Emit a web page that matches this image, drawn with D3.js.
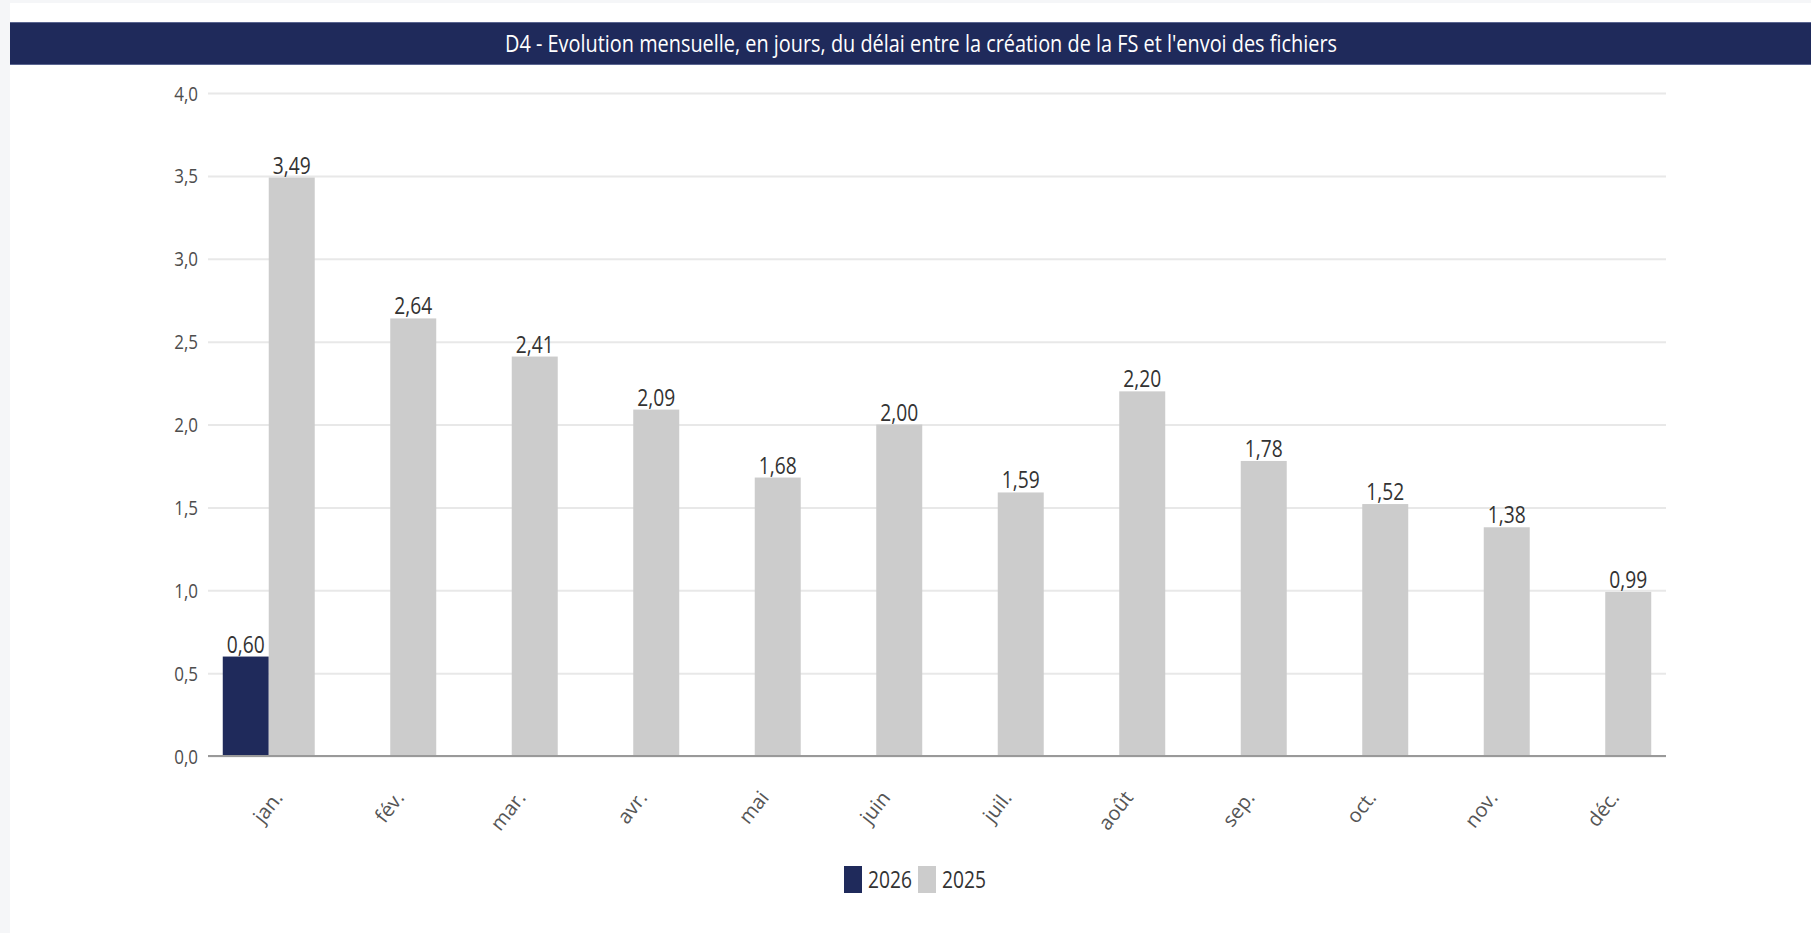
<!DOCTYPE html>
<html>
<head>
<meta charset="utf-8">
<script src="https://cdn.jsdelivr.net/npm/d3@7"></script>
<style>
  html, body { margin: 0; padding: 0; background: #f5f6f8; }
  #chart { position: absolute; left: 0; top: 0; }
</style>
</head>
<body>
<div id="chart"></div>
<script>
// data
const months = ['jan.', 'fév.', 'mar.', 'avr.', 'mai', 'juin', 'juil.', 'août', 'sep.', 'oct.', 'nov.', 'déc.'];
const years = ['2026', '2025'];
const values2026 = [0.60, null, null, null, null, null, null, null, null, null, null, null];
const values2025 = [3.49, 2.64, 2.41, 2.09, 1.68, 2.00, 1.59, 2.20, 1.78, 1.52, 1.38, 0.99];
const yTicks = [0, 0.5, 1, 1.5, 2, 2.5, 3, 3.5, 4];
const title = "D4 - Evolution mensuelle, en jours, du délai entre la création de la FS et l'envoi des fichiers";

const colors = {'2026': '#1f2a5b', '2025': '#cccccc'};

const W = 1811, H = 933;
const plot = {left: 208, right: 1666, top: 93, bottom: 756};
const squeeze = 0.8; // the labels in the picture are horizontally narrow

const fr = d3.formatLocale({decimal: ",", thousands: " ", grouping: [3], currency: ["", "€"]});
const fmt2 = fr.format(".2f");
const fmt1 = fr.format(".1f");

const rows = months.map((m, i) => ({month: m, '2026': values2026[i], '2025': values2025[i]}));

const svg = d3.select("#chart").append("svg")
    .attr("width", W)
    .attr("height", H);

// white panel
svg.append("rect")
    .attr("x", 10).attr("y", 3)
    .attr("width", W - 10).attr("height", H - 3)
    .attr("fill", "#ffffff");

// title bar
svg.append("rect")
    .attr("x", 10).attr("y", 22)
    .attr("width", W - 10).attr("height", 43)
    .attr("fill", "#1f2a5b");
svg.append("line")
    .attr("x1", 10).attr("x2", W).attr("y1", 22.5).attr("y2", 22.5)
    .attr("stroke", "#5a6590").attr("stroke-width", 1);
svg.append("line")
    .attr("x1", 10).attr("x2", W).attr("y1", 64.5).attr("y2", 64.5)
    .attr("stroke", "#5a6590").attr("stroke-width", 1);
svg.append("text")
    .attr("x", 921).attr("y", 52)
    .attr("text-anchor", "middle")
    .attr("fill", "#ffffff")
    .attr("font-family", "'Open Sans', sans-serif")
    .attr("font-size", 23)
    .attr("textLength", 832)
    .attr("lengthAdjust", "spacingAndGlyphs")
    .text(title);

// scales
const x0 = d3.scaleBand()
    .domain(months)
    .range([plot.left, plot.right])
    .paddingInner(0.243)
    .paddingOuter(0.1215);

const x1 = d3.scaleBand()
    .domain(years)
    .range([0, x0.bandwidth()]);

const y = d3.scaleLinear()
    .domain([0, 4])
    .range([plot.bottom, plot.top]);

// y axis with grid
const yAxis = svg.append("g")
    .attr("transform", `translate(${plot.left},0)`)
    .call(d3.axisLeft(y)
        .tickValues(yTicks)
        .tickFormat(fmt1)
        .tickSizeInner(-(plot.right - plot.left))
        .tickSizeOuter(0)
        .tickPadding(10));
yAxis.select(".domain").remove();
yAxis.selectAll(".tick line")
    .attr("stroke", "#e8e8e8")
    .attr("stroke-width", 2);
yAxis.selectAll(".tick text")
    .attr("fill", "#4d4d4d")
    .attr("font-family", "'Open Sans', sans-serif")
    .attr("font-size", 20)
    .attr("x", 0)
    .attr("dy", "0.35em")
    .attr("transform", `translate(-10,0) scale(0.85,1)`);

// bars
const groups = svg.append("g")
    .selectAll("g")
    .data(rows)
    .join("g")
    .attr("transform", d => `translate(${x0(d.month)},0)`);

const barData = d => years.filter(k => d[k] != null).map(k => ({key: k, value: d[k]}));

groups.selectAll("rect")
    .data(barData)
    .join("rect")
    .attr("x", d => x1(d.key))
    .attr("y", d => y(d.value))
    .attr("width", x1.bandwidth())
    .attr("height", d => y(0) - y(d.value))
    .attr("fill", d => colors[d.key]);

groups.selectAll("text")
    .data(barData)
    .join("text")
    .attr("transform", d => `translate(${x1(d.key) + x1.bandwidth() / 2},${y(d.value) - 4}) scale(${squeeze},1)`)
    .attr("text-anchor", "middle")
    .attr("fill", "#333333")
    .attr("font-family", "'Open Sans', sans-serif")
    .attr("font-size", 24)
    .text(d => fmt2(d.value));

// baseline
svg.append("line")
    .attr("x1", plot.left).attr("x2", plot.right)
    .attr("y1", y(0)).attr("y2", y(0))
    .attr("stroke", "#999999")
    .attr("stroke-width", 2);

// x axis labels
const xAxis = svg.append("g")
    .attr("transform", `translate(0,${plot.bottom})`)
    .call(d3.axisBottom(x0).tickSize(0).tickPadding(0));
xAxis.select(".domain").remove();
xAxis.selectAll(".tick text")
    .attr("fill", "#555555")
    .attr("font-family", "'Open Sans', sans-serif")
    .attr("font-size", 20)
    .attr("text-anchor", "end")
    .attr("dy", 0)
    .attr("transform", "translate(15,42) rotate(-52)");

// legend
const legend = svg.append("g")
    .attr("transform", "translate(844,866)");
const legendItems = legend.selectAll("g")
    .data(years)
    .join("g")
    .attr("transform", (d, i) => `translate(${i * 74},0)`);
legendItems.append("rect")
    .attr("width", 18).attr("height", 27)
    .attr("fill", d => colors[d]);
legendItems.append("text")
    .attr("transform", `translate(24,22) scale(${squeeze},1)`)
    .attr("fill", "#333333")
    .attr("font-family", "'Open Sans', sans-serif")
    .attr("font-size", 24)
    .text(d => d);
</script>
</body>
</html>
